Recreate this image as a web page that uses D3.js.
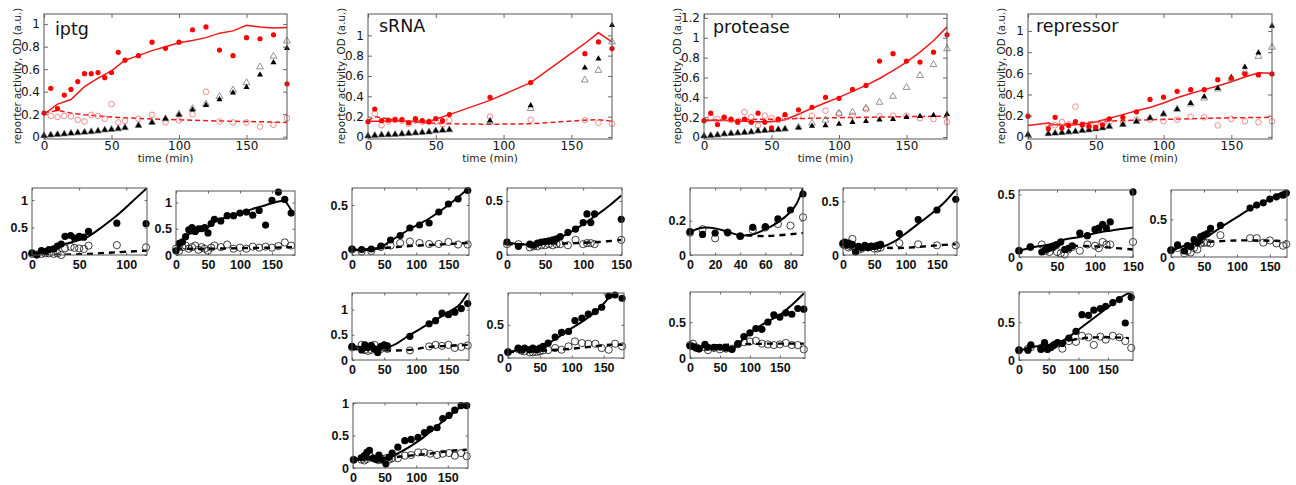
<!DOCTYPE html>
<html><head><meta charset="utf-8">
<script src="https://cdn.jsdelivr.net/npm/d3@7"></script>
<style>body{margin:0;background:#fff} svg{display:block}</style>
</head><body>
<svg id="c" width="1296" height="485"></svg>
<script>
// ---------------- DATA: top panels ----------------
const topXTicks = [0, 50, 100, 150];
const iptgYTicks = [0, 0.2, 0.4, 0.6, 0.8, 1];
const srnaYTicks = [0, 0.2, 0.4, 0.6, 0.8, 1];
const protYTicks = [0, 0.2, 0.4, 0.6, 0.8, 1, 1.2];
const repYTicks = [0, 0.2, 0.4, 0.6, 0.8, 1];
const topTitles = ["iptg", "sRNA", "protease", "repressor"];
const yLabelText = "reporter activity, OD (a.u.)";
const xLabelText = "time (min)";

const iptgT = [0,5,10,15,20,25,30,35,40,45,50,55,60,70,80,90,100,110,120,130,140,150,160,170,180];
const iptgRed = [0.21,0.43,0.25,0.37,0.42,0.49,0.56,0.56,0.57,0.525,0.57,0.75,0.68,0.72,0.84,0.785,0.84,0.95,0.975,0.77,0.72,0.88,0.87,0.905,0.47];
const iptgRedOpen = [null,0.185,0.175,0.185,0.18,0.15,0.135,0.195,0.185,0.16,0.29,0.127,0.14,0.16,0.195,0.127,0.145,0.2,0.40,0.135,0.127,0.127,0.09,0.105,0.165];
const iptgTri = [0.01,0.015,0.02,0.025,0.03,0.035,0.04,0.045,0.05,0.06,0.065,0.07,0.08,0.1,0.127,0.16,0.195,0.24,0.28,0.33,0.39,0.44,0.55,0.66,0.785];
const iptgTriOpen = [0.01,0.015,0.02,0.025,0.03,0.035,0.04,0.045,0.05,0.06,0.065,0.07,0.08,0.1,0.127,0.16,0.2,0.25,0.29,0.357,0.415,0.48,0.62,0.715,0.85];
const iptgLineT = [0,10,20,30,40,50,60,70,80,90,100,110,120,130,140,150,160,170,180];
const iptgLine = [0.2,0.29,0.33,0.445,0.52,0.585,0.68,0.72,0.765,0.8,0.835,0.855,0.88,0.92,0.94,0.99,0.975,0.965,0.97];
const iptgDashT = [0,10,20,30,50,75,100,130,160,180];
const iptgDash = [0.21,0.235,0.21,0.195,0.175,0.16,0.15,0.14,0.133,0.127];

const srnaT = [0,5,10,15,20,25,30,35,40,45,50,55,60,90,120,160,170,180];
const srnaRed = [0.15,0.275,0.16,0.165,0.17,0.17,0.14,0.18,0.16,0.15,0.18,0.16,0.22,0.39,0.535,0.82,0.935,0.87];
const srnaRedOpen = [null,0.23,0.115,0.15,0.17,0.16,0.13,0.16,0.15,0.15,0.15,0.125,0.165,0.2,0.17,0.165,0.14,0.13];
const srnaTri = [0.01,0.015,0.02,0.022,0.025,0.03,0.035,0.04,0.045,0.05,0.06,0.065,0.07,0.16,0.31,0.68,0.77,1.1];
const srnaTriOpen = [0.01,0.015,0.02,0.022,0.025,0.03,0.035,0.04,0.045,0.05,0.06,0.065,0.07,0.15,0.28,0.56,0.655,0.935];
const srnaLineT = [0,10,20,30,45,50,60,90,120,160,170,180];
const srnaLine = [0.155,0.155,0.16,0.155,0.155,0.175,0.22,0.36,0.535,0.92,1.025,0.935];
const srnaDashT = [0,5,10,20,40,60,90,120,160,170,180];
const srnaDash = [0.16,0.2,0.19,0.165,0.14,0.13,0.125,0.13,0.165,0.17,0.155];

const protT = [0,5,10,15,20,25,30,35,40,45,50,55,60,70,80,90,100,110,120,130,140,150,160,170,180];
const protRed = [0.165,0.24,0.125,0.2,0.18,0.15,0.18,0.15,0.24,0.15,0.093,0.18,0.225,0.275,0.3,0.4,0.39,0.48,0.52,0.765,0.84,0.765,0.755,0.855,1.03];
const protRedOpen = [null,0.2,0.18,0.19,0.17,0.16,0.25,0.2,0.115,0.215,0.19,0.17,0.2,0.215,0.215,0.265,0.235,0.215,0.28,0.21,0.215,0.215,0.19,0.18,0.15];
const protTri = [0.01,0.015,0.02,0.03,0.035,0.04,0.045,0.05,0.06,0.065,0.07,0.075,0.08,0.093,0.11,0.115,0.13,0.15,0.16,0.175,0.18,0.2,0.21,0.22,0.23];
const protTriOpen = [0.01,0.015,0.02,0.03,0.035,0.04,0.045,0.05,0.06,0.065,0.07,0.075,0.08,0.1,0.14,0.17,0.24,0.25,0.29,0.35,0.41,0.5,0.62,0.73,0.89];
const protLineT = [0,10,20,30,40,50,60,70,80,90,100,110,120,130,140,150,160,170,180];
const protLine = [0.165,0.17,0.165,0.16,0.155,0.155,0.175,0.23,0.29,0.345,0.4,0.46,0.52,0.59,0.67,0.755,0.855,0.97,1.11];
const protDashT = [0,50,100,150,180];
const protDash = [0.17,0.18,0.195,0.205,0.21];

const repT = [0,15,20,25,30,35,40,45,50,55,60,70,80,90,100,110,120,130,140,150,160,170,180];
const repRed = [0.195,0.077,0.185,0.083,0.108,0.145,0.114,0.1,0.092,0.114,0.17,0.185,0.237,0.354,0.375,0.43,0.446,0.446,0.54,0.554,0.594,0.585,0.594];
const repRedOpen = [null,0.114,0.11,0.14,0.12,0.286,0.114,0.092,0.123,0.13,0.14,0.145,0.163,0.163,0.148,0.163,0.19,0.185,0.108,0.17,0.148,0.138,0.148];
const repTri = [0.02,0.03,0.035,0.04,0.045,0.05,0.06,0.065,0.075,0.085,0.098,0.117,0.145,0.178,0.215,0.26,0.317,0.378,0.46,0.563,0.66,0.794,1.046];
const repTriOpen = [0.02,0.03,0.035,0.04,0.045,0.05,0.06,0.065,0.075,0.085,0.098,0.117,0.145,0.178,0.215,0.26,0.31,0.366,0.452,0.545,0.615,0.76,0.846];
const repLineT = [0,15,20,30,40,50,60,70,80,90,100,110,120,130,140,150,160,170,180];
const repLine = [0.108,0.13,0.115,0.11,0.12,0.14,0.175,0.21,0.246,0.277,0.32,0.37,0.41,0.446,0.48,0.52,0.565,0.606,0.6];
const repDashT = [15,40,60,100,140,180];
const repDash = [0.11,0.135,0.15,0.165,0.178,0.185];

// ---------------- DATA: small panels ----------------
const sx50 = [0, 50, 100, 150];
const sx50short = [0, 50, 100];
const sx20 = [0, 20, 40, 60, 80];
const sy05 = [0, 0.5, 1];
const sy02 = [0, 0.2];

const aT = [0,5,10,14,18,23,27,31,35,41,45,50,55,60,90,121];
const aFill = [0.037,0.0,0.08,0.06,0.1,0.11,0.16,0.2,0.34,0.355,0.31,0.34,0.325,0.43,0.58,0.57];
const aOpen = [0.02,0.01,0.02,0.03,0.03,0.02,0.03,0.0,0.12,0.15,0.13,0.12,0.11,0.17,0.18,0.14];
const aLineT = [0,20,35,50,60,75,90,105,122];
const aLine = [0.03,0.09,0.2,0.27,0.34,0.52,0.72,0.95,1.22];
const aDashT = [0,30,60,90,122];
const aDash = [0.0,0.005,0.02,0.05,0.08];

const bT = [0,5,10,15,20,25,30,35,40,45,50,55,60,70,80,90,100,110,120,130,140,150,160,170,180];
const bFill = [0.08,0.22,0.25,0.35,0.48,0.52,0.45,0.5,0.5,0.52,0.42,0.6,0.68,0.65,0.75,0.75,0.8,0.82,0.76,0.85,0.57,1.04,1.2,1.06,0.8];
const bOpen = [0.12,0.08,0.15,0.18,0.12,0.15,0.18,0.1,0.15,0.12,0.08,0.14,0.18,0.15,0.2,0.12,0.14,0.12,0.16,0.14,0.16,0.14,0.17,0.24,0.18];
const bLineT = [0,10,20,30,40,50,60,80,100,120,140,160,170,182];
const bLine = [0.08,0.25,0.4,0.42,0.48,0.52,0.65,0.72,0.8,0.88,0.95,1.02,1.02,0.8];
const bDashT = [0,50,100,150,182];
const bDash = [0.12,0.12,0.13,0.14,0.15];

const cT = [0,15,30,45,60,75,90,105,120,135,150,165,180];
const cFill = [0.06,0.055,0.06,0.09,0.15,0.195,0.27,0.3,0.32,0.43,0.51,0.56,0.645];
const cOpen = [0.055,0.035,0.04,0.08,0.095,0.12,0.135,0.12,0.11,0.11,0.13,0.105,0.105];
const cLineT = [0,30,45,60,90,120,150,180];
const cLine = [0.05,0.055,0.08,0.14,0.26,0.365,0.5,0.66];
const cDashT = [0,30,60,90,120,150,180];
const cDash = [0.05,0.06,0.075,0.09,0.1,0.11,0.12];

const dT = [0,15,30,35,40,45,50,55,60,65,70,80,90,100,105,110,115,150];
const dFill = [0.12,0.08,0.1,0.09,0.11,0.12,0.125,0.13,0.14,0.15,0.17,0.21,0.24,0.3,0.38,0.3,0.38,0.33];
const dOpen = [0.1,0.1,0.07,0.08,0.08,0.09,0.09,0.1,0.09,0.1,0.1,0.09,0.14,0.1,0.11,0.11,0.1,0.14];
const dLineT = [0,15,30,45,60,75,90,105,120,135,150];
const dLine = [0.12,0.1,0.1,0.12,0.14,0.18,0.24,0.31,0.38,0.46,0.55];
const dDashT = [0,30,60,90,120,150];
const dDash = [0.1,0.1,0.105,0.11,0.12,0.14];

const eT = [0,15,20,25,30,35,40,45,50,55,90,120,130,140,150,160,170,180];
const eFill = [0.27,0.2,0.3,0.25,0.29,0.22,0.15,0.27,0.3,0.28,0.47,0.72,0.78,0.93,0.9,0.95,1.02,1.12];
const eOpen = [0.25,0.3,0.2,0.18,0.2,0.3,0.2,0.22,0.25,0.22,0.19,0.27,0.3,0.28,0.3,0.24,0.26,0.29];
const eLineT = [0,30,60,90,120,150,165,180];
const eLine = [0.27,0.26,0.27,0.5,0.72,0.95,1.07,1.33];
const eDashT = [0,30,60,90,120,150,180];
const eDash = [0.22,0.2,0.19,0.2,0.26,0.28,0.3];

const fT = [0,16,21,26,34,39,45,50,55,63,74,84,95,105,116,126,137,147,158,168,179];
const fFill = [0.09,0.15,0.125,0.15,0.125,0.15,0.125,0.15,0.175,0.225,0.315,0.385,0.4,0.565,0.6,0.66,0.7,0.765,0.935,0.95,0.9];
const fOpen = [0.09,0.135,0.11,0.1,0.085,0.085,0.09,0.1,0.115,0.12,0.15,0.125,0.175,0.25,0.225,0.215,0.215,0.15,0.125,0.215,0.175];
const fLineT = [0,20,40,55,70,85,100,120,140,150,160,172];
const fLine = [0.09,0.12,0.13,0.16,0.26,0.35,0.45,0.57,0.72,0.82,0.92,0.98];
const fDashT = [0,40,70,100,130,160,180];
const fDash = [0.09,0.1,0.12,0.14,0.17,0.2,0.2];

const gT = [1,13,18,22,26,32,37,41,46,52,57,62,71,82,92,103,113,122,133,142,152,161,171,180];
const gFill = [0.126,0.156,0.19,0.24,0.27,0.15,0.13,0.2,0.126,0.065,0.167,0.23,0.32,0.42,0.44,0.47,0.545,0.6,0.62,0.76,0.81,0.89,0.96,0.96];
const gOpen = [0.126,0.13,0.116,0.14,0.2,0.15,0.14,0.12,0.14,0.15,0.13,0.15,0.15,0.19,0.2,0.24,0.24,0.22,0.2,0.22,0.23,0.19,0.23,0.18];
const gLineT = [0,20,40,50,60,70,90,110,130,150,170,180];
const gLine = [0.12,0.17,0.16,0.15,0.17,0.22,0.33,0.46,0.62,0.78,0.94,1.0];
const gDashT = [0,50,70,100,130,160,180];
const gDash = [0.12,0.15,0.17,0.2,0.23,0.27,0.28];

const hT = [0,10,20,30,40,50,60,70,80,90];
const hFill = [0.136,0.12,0.128,0.132,0.109,0.161,0.165,0.21,0.262,0.355];
const hOpen = [0.13,0.15,0.097,0.13,0.11,0.146,0.16,0.18,0.171,0.22];
const hLineT = [0,5,12,20,30,40,50,60,70,80,85,90];
const hLine = [0.13,0.15,0.16,0.155,0.135,0.115,0.12,0.15,0.19,0.25,0.3,0.39];
const hDashT = [45,60,90];
const hDash = [0.115,0.11,0.128];

const iT = [0,3,6,9,12,15,20,25,30,35,40,45,50,55,60,90,120,150,180];
const iFill = [0.11,0.12,0.1,0.11,0.09,0.1,0.03,0.08,0.07,0.09,0.07,0.08,0.08,0.09,0.1,0.2,0.33,0.42,0.52];
const iOpen = [0.1,0.09,0.1,0.07,0.08,0.15,0.06,0.05,0.06,0.08,0.07,0.08,0.06,0.06,0.07,0.11,0.1,0.09,0.09];
const iLineT = [0,20,40,50,60,80,100,120,140,160,180];
const iLine = [0.1,0.08,0.07,0.06,0.07,0.12,0.2,0.29,0.38,0.48,0.61];
const iDashT = [0,60,90,120,150,180];
const iDash = [0.09,0.07,0.065,0.075,0.09,0.1];

const jT = [0,5,10,15,25,30,40,50,60,70,80,90,100,110,120,130,140,150,160,170,180,190];
const jFill = [0.17,0.16,0.14,0.13,0.19,0.15,0.15,0.15,0.14,0.12,0.2,0.3,0.35,0.41,0.4,0.5,0.6,0.57,0.63,0.61,0.69,0.68];
const jOpen = [0.18,0.2,0.15,0.13,0.15,0.11,0.14,0.12,0.13,0.13,0.19,0.22,0.23,0.24,0.2,0.19,0.18,0.19,0.21,0.18,0.18,0.12];
const jLineT = [0,20,40,60,75,90,110,130,150,170,190];
const jLine = [0.16,0.15,0.145,0.14,0.15,0.27,0.41,0.51,0.6,0.74,0.9];
const jDashT = [0,80,130,190];
const jDash = [0.16,0.19,0.2,0.2];

const kT = [0,15,30,35,40,45,50,55,60,65,70,80,90,100,105,110,115,120,150];
const kFill = [0.05,0.08,0.04,0.06,0.07,0.08,0.1,0.12,0.06,0.07,0.09,0.19,0.17,0.22,0.23,0.26,0.23,0.28,0.52];
const kOpen = [0.05,0.08,0.1,0.05,0.04,0.08,0.04,0.03,0.02,0.06,0.08,0.05,0.1,0.09,0.07,0.12,0.1,0.1,0.12];
const kLineT = [0,20,40,60,80,100,120,150];
const kLine = [0.05,0.08,0.1,0.14,0.16,0.19,0.21,0.235];
const kDashT = [70,100,120,150];
const kDash = [0.09,0.085,0.075,0.06];

const lT = [0,10,20,25,30,35,40,45,50,55,60,75,120,130,140,150,160,170,175];
const lFill = [0.09,0.16,0.08,0.15,0.14,0.23,0.19,0.27,0.29,0.31,0.38,0.42,0.65,0.69,0.72,0.77,0.8,0.82,0.85];
const lOpen = [0.09,0.12,0.05,0.08,0.06,0.12,0.1,0.18,0.19,0.19,0.18,0.29,0.25,0.25,0.19,0.22,0.18,0.15,0.17];
const lLineT = [0,20,40,60,80,100,120,140,160,170,175];
const lLine = [0.08,0.15,0.2,0.3,0.42,0.53,0.64,0.73,0.82,0.86,0.85];
const lDashT = [40,100,175];
const lDash = [0.19,0.22,0.21];

const mT = [0,15,20,37,43,48,54,59,65,73,84,96,106,117,126,137,146,158,169,179,189];
const mFill = [0.13,0.13,0.2,0.14,0.23,0.14,0.17,0.2,0.23,0.22,0.29,0.38,0.6,0.59,0.66,0.68,0.71,0.76,0.8,0.49,0.83];
const mOpen = [0.13,0.15,0.17,0.16,0.2,0.15,0.17,0.2,0.22,0.15,0.25,0.24,0.32,0.3,0.2,0.31,0.27,0.32,0.3,0.25,0.16];
const mLineT = [0,20,40,55,70,90,110,130,150,170,185,190];
const mLine = [0.12,0.17,0.19,0.2,0.24,0.34,0.46,0.58,0.7,0.82,0.88,0.86];
const mDashT = [70,100,130,160,185];
const mDash = [0.22,0.28,0.3,0.3,0.29];

// ---------------- DRAWING ----------------
const svg = d3.select("#c");
svg.append("rect").attr("width", 1296).attr("height", 485).attr("fill", "#fff");
const fmt = d => String(+(+d).toFixed(2));
const zip = (t, v) => t.map((d, i) => [d, v[i]]).filter(d => d[1] != null);

function styleAxis(sel, size, family, weight) {
  sel.select(".domain").remove();
  sel.selectAll("line").attr("stroke", "#444").attr("stroke-width", 0.8);
  sel.selectAll("text").attr("font-size", size).attr("font-family", family)
     .attr("font-weight", weight).attr("fill", "#111");
}

function topPanel(p) {
  const g = svg.append("g");
  const x = d3.scaleLinear().domain([0, 180]).range([p.x0, p.x1]);
  const y = d3.scaleLinear().domain(p.yDom).range([p.y1, p.y0]);
  const F = "DejaVu Sans";
  g.append("g").attr("transform", `translate(0,${p.y1})`)
    .call(d3.axisBottom(x).tickValues(topXTicks).tickSize(-4).tickPadding(2).tickFormat(fmt))
    .call(s => styleAxis(s, 12, F, "normal"));
  g.append("g").attr("transform", `translate(0,${p.y0})`)
    .call(d3.axisTop(x).tickValues(topXTicks).tickSize(-4).tickFormat(""))
    .call(s => styleAxis(s, 12, F, "normal"));
  g.append("g").attr("transform", `translate(${p.x0},0)`)
    .call(d3.axisLeft(y).tickValues(p.yTicks).tickSize(-4).tickPadding(4).tickFormat(fmt))
    .call(s => styleAxis(s, 12, F, "normal"));
  g.append("g").attr("transform", `translate(${p.x1},0)`)
    .call(d3.axisRight(y).tickValues(p.yTicks).tickSize(-4).tickFormat(""))
    .call(s => styleAxis(s, 12, F, "normal"));

  const line = d3.line().x(d => x(d[0])).y(d => y(d[1]));
  g.append("path").datum(zip(p.dashT, p.dash)).attr("d", line).attr("fill", "none")
    .attr("stroke", "#f01818").attr("stroke-width", 1.5).attr("stroke-dasharray", "5,3");
  g.append("path").datum(zip(p.lineT, p.line)).attr("d", line).attr("fill", "none")
    .attr("stroke", "#f01818").attr("stroke-width", 1.5);
  g.selectAll(".ro").data(zip(p.t, p.redOpen)).join("circle")
    .attr("cx", d => x(d[0])).attr("cy", d => y(d[1])).attr("r", 2.8)
    .attr("fill", "none").attr("stroke", "#f07070").attr("stroke-width", 0.8);
  const triO = d3.symbol().type(d3.symbolTriangle).size(20);
  const triF = d3.symbol().type(d3.symbolTriangle).size(16);
  g.selectAll(".to").data(zip(p.t, p.triOpen)).join("path")
    .attr("transform", d => `translate(${x(d[0])},${y(d[1])})`).attr("d", triO)
    .attr("fill", "none").attr("stroke", "#777").attr("stroke-width", 0.8);
  g.selectAll(".tf").data(zip(p.t, p.tri)).join("path")
    .attr("transform", d => `translate(${x(d[0])},${y(d[1])})`).attr("d", triF)
    .attr("fill", "#000");
  g.selectAll(".rf").data(zip(p.t, p.red)).join("circle")
    .attr("cx", d => x(d[0])).attr("cy", d => y(d[1])).attr("r", 2.6)
    .attr("fill", "#f00");

  g.append("rect").attr("x", p.x0).attr("y", p.y0).attr("width", p.x1 - p.x0)
    .attr("height", p.y1 - p.y0).attr("fill", "none").attr("stroke", "#555").attr("stroke-width", 1);
  g.append("text").attr("x", p.tx).attr("y", p.ty).text(p.title)
    .attr("font-family", F).attr("font-size", 17.5).attr("fill", "#111");
  g.append("text").attr("x", (p.x0 + p.x1) / 2).attr("y", 162).attr("text-anchor", "middle")
    .text(xLabelText).attr("font-family", F).attr("font-size", 10.6).attr("fill", "#222");
  g.append("text").attr("transform", `translate(${p.x0 - 27},76) rotate(-90)`).attr("text-anchor", "middle")
    .attr("dy", "0.35em").text(yLabelText).attr("font-family", F).attr("font-size", 10.3).attr("fill", "#222");
}

function smallPanel(p) {
  const g = svg.append("g");
  const x = d3.scaleLinear().domain(p.xDom).range([p.x0, p.x1]);
  const y = d3.scaleLinear().domain(p.yDom).range([p.y1, p.y0]);
  const F = "Liberation Sans";
  const yt = p.yTicks.filter(v => v <= p.yDom[1] + 1e-9);
  g.append("g").attr("transform", `translate(0,${p.y1})`)
    .call(d3.axisBottom(x).tickValues(p.xTicks).tickSize(-2.5).tickPadding(5).tickFormat(fmt))
    .call(s => styleAxis(s, 12.5, F, "bold"));
  g.append("g").attr("transform", `translate(0,${p.y0})`)
    .call(d3.axisTop(x).tickValues(p.xTicks).tickSize(-2.5).tickFormat(""))
    .call(s => styleAxis(s, 12.5, F, "bold"));
  g.append("g").attr("transform", `translate(${p.x0},0)`)
    .call(d3.axisLeft(y).tickValues(yt).tickSize(-2.5).tickPadding(4).tickFormat(fmt))
    .call(s => styleAxis(s, 12.5, F, "bold"));
  g.append("g").attr("transform", `translate(${p.x1},0)`)
    .call(d3.axisRight(y).tickValues(yt).tickSize(-2.5).tickFormat(""))
    .call(s => styleAxis(s, 12.5, F, "bold"));

  const line = d3.line().x(d => x(d[0])).y(d => y(d[1])).curve(d3.curveCatmullRom.alpha(0.5));
  const clipId = "clip" + p.id;
  g.append("clipPath").attr("id", clipId).append("rect")
    .attr("x", p.x0).attr("y", p.y0).attr("width", p.x1 - p.x0).attr("height", p.y1 - p.y0);
  const inner = g.append("g").attr("clip-path", `url(#${clipId})`);
  inner.append("path").datum(zip(p.dashT, p.dash)).attr("d", line).attr("fill", "none")
    .attr("stroke", "#000").attr("stroke-width", 2.4).attr("stroke-dasharray", "6,5");
  g.selectAll(".oc").data(zip(p.t, p.open)).join("circle")
    .attr("cx", d => x(d[0])).attr("cy", d => y(d[1])).attr("r", 3.6)
    .attr("fill", "none").attr("stroke", "#111").attr("stroke-width", 0.8);
  inner.append("path").datum(zip(p.lineT, p.line)).attr("d", line).attr("fill", "none")
    .attr("stroke", "#000").attr("stroke-width", 2);
  g.selectAll(".fc").data(zip(p.t, p.fill)).join("circle")
    .attr("cx", d => x(d[0])).attr("cy", d => y(d[1])).attr("r", 3.6)
    .attr("fill", "#000");
  g.append("rect").attr("x", p.x0).attr("y", p.y0).attr("width", p.x1 - p.x0)
    .attr("height", p.y1 - p.y0).attr("fill", "none").attr("stroke", "#555").attr("stroke-width", 1);
}

const topPanels = [
  {title: topTitles[0], x0: 44, x1: 287, y0: 14, y1: 139, yDom: [-0.02, 1.09], yTicks: iptgYTicks, tx: 55, ty: 35,
   t: iptgT, red: iptgRed, redOpen: iptgRedOpen, tri: iptgTri, triOpen: iptgTriOpen, lineT: iptgLineT, line: iptgLine, dashT: iptgDashT, dash: iptgDash},
  {title: topTitles[1], x0: 368, x1: 612, y0: 14, y1: 139, yDom: [-0.02, 1.21], yTicks: srnaYTicks, tx: 379, ty: 32,
   t: srnaT, red: srnaRed, redOpen: srnaRedOpen, tri: srnaTri, triOpen: srnaTriOpen, lineT: srnaLineT, line: srnaLine, dashT: srnaDashT, dash: srnaDash},
  {title: topTitles[2], x0: 704, x1: 947, y0: 14, y1: 139, yDom: [-0.02, 1.24], yTicks: protYTicks, tx: 713, ty: 33,
   t: protT, red: protRed, redOpen: protRedOpen, tri: protTri, triOpen: protTriOpen, lineT: protLineT, line: protLine, dashT: protDashT, dash: protDash},
  {title: topTitles[3], x0: 1028, x1: 1272, y0: 14, y1: 139, yDom: [-0.02, 1.16], yTicks: repYTicks, tx: 1036, ty: 32,
   t: repT, red: repRed, redOpen: repRedOpen, tri: repTri, triOpen: repTriOpen, lineT: repLineT, line: repLine, dashT: repDashT, dash: repDash}
];
topPanels.forEach(topPanel);

const smallPanels = [
  {id: "A", x0: 32, x1: 147, y0: 188, y1: 255, xDom: [0, 122], yDom: [0, 1.22], xTicks: sx50short, yTicks: sy05,
   t: aT, fill: aFill, open: aOpen, lineT: aLineT, line: aLine, dashT: aDashT, dash: aDash},
  {id: "B", x0: 176, x1: 295, y0: 191, y1: 255, xDom: [0, 186], yDom: [0, 1.22], xTicks: sx50, yTicks: sy05,
   t: bT, fill: bFill, open: bOpen, lineT: bLineT, line: bLine, dashT: bDashT, dash: bDash},
  {id: "C", x0: 352, x1: 469, y0: 188, y1: 255, xDom: [0, 182], yDom: [0, 0.67], xTicks: sx50, yTicks: sy05,
   t: cT, fill: cFill, open: cOpen, lineT: cLineT, line: cLine, dashT: cDashT, dash: cDash},
  {id: "D", x0: 507, x1: 622, y0: 188, y1: 255, xDom: [0, 151], yDom: [0, 0.62], xTicks: sx50, yTicks: sy05,
   t: dT, fill: dFill, open: dOpen, lineT: dLineT, line: dLine, dashT: dDashT, dash: dDash},
  {id: "E", x0: 352, x1: 469, y0: 293, y1: 360, xDom: [0, 182], yDom: [0, 1.33], xTicks: sx50, yTicks: sy05,
   t: eT, fill: eFill, open: eOpen, lineT: eLineT, line: eLine, dashT: eDashT, dash: eDash},
  {id: "F", x0: 508, x1: 624, y0: 293, y1: 358, xDom: [0, 182], yDom: [0, 0.98], xTicks: sx50, yTicks: sy05,
   t: fT, fill: fFill, open: fOpen, lineT: fLineT, line: fLine, dashT: fDashT, dash: fDash},
  {id: "G", x0: 353, x1: 468, y0: 403, y1: 468, xDom: [0, 182], yDom: [0, 1.0], xTicks: sx50, yTicks: sy05,
   t: gT, fill: gFill, open: gOpen, lineT: gLineT, line: gLine, dashT: gDashT, dash: gDash},
  {id: "H", x0: 690, x1: 803, y0: 188, y1: 255, xDom: [0, 90], yDom: [0, 0.39], xTicks: sx20, yTicks: sy02,
   t: hT, fill: hFill, open: hOpen, lineT: hLineT, line: hLine, dashT: hDashT, dash: hDash},
  {id: "I", x0: 843, x1: 957, y0: 188, y1: 255, xDom: [0, 182], yDom: [0, 0.625], xTicks: sx50, yTicks: sy05,
   t: iT, fill: iFill, open: iOpen, lineT: iLineT, line: iLine, dashT: iDashT, dash: iDash},
  {id: "J", x0: 690, x1: 805, y0: 292, y1: 358, xDom: [0, 192], yDom: [0, 0.92], xTicks: sx50, yTicks: sy05,
   t: jT, fill: jFill, open: jOpen, lineT: jLineT, line: jLine, dashT: jDashT, dash: jDash},
  {id: "K", x0: 1019, x1: 1133, y0: 190, y1: 257, xDom: [0, 150], yDom: [0, 0.535], xTicks: sx50, yTicks: sy05,
   t: kT, fill: kFill, open: kOpen, lineT: kLineT, line: kLine, dashT: kDashT, dash: kDash},
  {id: "L", x0: 1171, x1: 1287, y0: 190, y1: 257, xDom: [0, 176], yDom: [0, 0.89], xTicks: sx50, yTicks: sy05,
   t: lT, fill: lFill, open: lOpen, lineT: lLineT, line: lLine, dashT: lDashT, dash: lDash},
  {id: "M", x0: 1019, x1: 1133, y0: 292, y1: 360, xDom: [0, 192], yDom: [0, 0.9], xTicks: sx50, yTicks: sy05,
   t: mT, fill: mFill, open: mOpen, lineT: mLineT, line: mLine, dashT: mDashT, dash: mDash}
];
smallPanels.forEach(smallPanel);
</script>
</body></html>
